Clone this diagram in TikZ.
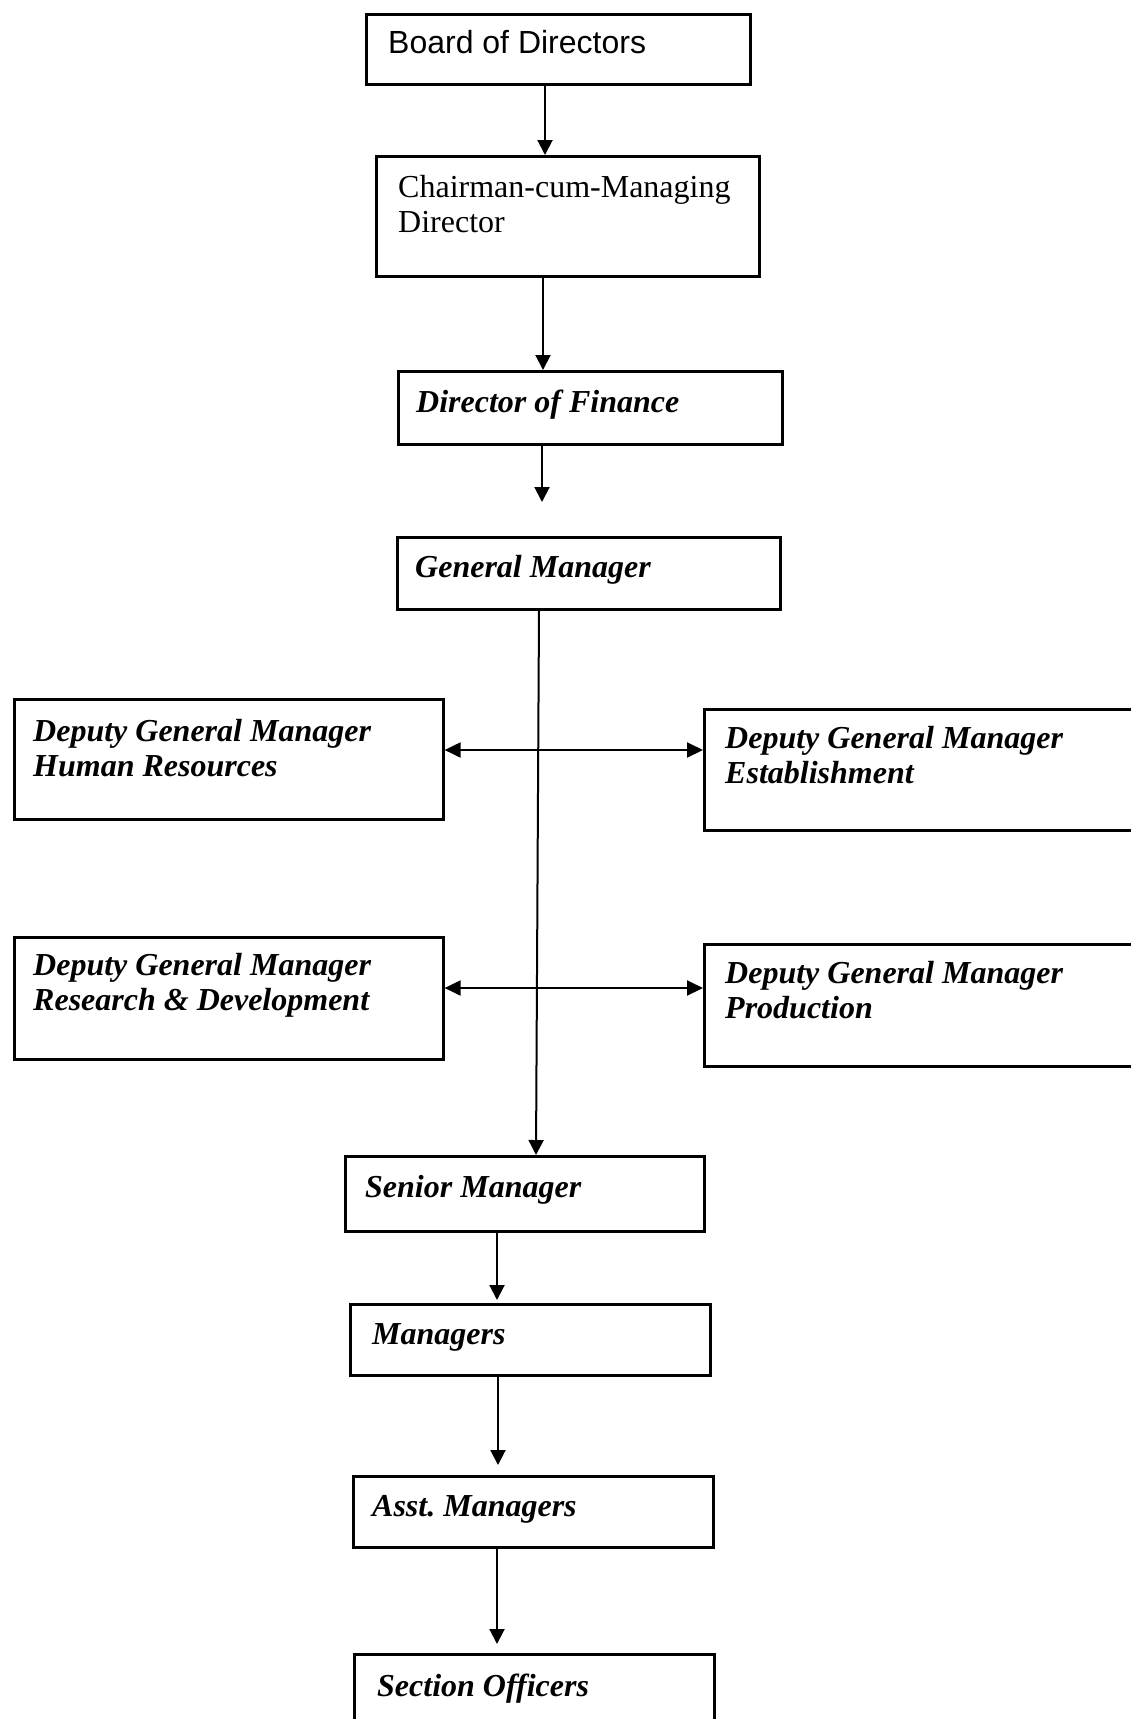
\documentclass[tikz,border=0pt]{standalone}
\usepackage{fontspec}
\setmainfont{Liberation Serif}
\newfontfamily\arialfont{Liberation Sans}
\usetikzlibrary{arrows.meta}
\begin{document}
\begin{tikzpicture}[x=1pt,y=-1pt,
  box/.style={draw, line width=2.6pt, inner sep=0pt, anchor=north west},
  lbl/.style={anchor=base west, inner sep=0pt, font=\fontsize{32}{35}\selectfont\bfseries\itshape},
  rlbl/.style={anchor=base west, inner sep=0pt, font=\fontsize{32}{35}\selectfont},
  slbl/.style={anchor=base west, inner sep=0pt, font=\fontsize{32}{35}\selectfont\arialfont},
  arr/.style={line width=2pt, -{Triangle[width=15pt,length=15pt]}},
  darr/.style={line width=2pt, {Triangle[width=15pt,length=16pt]}-{Triangle[width=15pt,length=16pt]}}]
\useasboundingbox (0,0) rectangle (1131,1719);
\clip (0,0) rectangle (1131,1719);
\fill[white] (0,0) rectangle (1131,1719);

% boxes
\node[box, minimum width=384pt, minimum height=70pt] (bod) at (365,13) {};
\node[box, minimum width=383pt, minimum height=120pt] (cmd) at (375,155) {};
\node[box, minimum width=384pt, minimum height=73pt] (dof) at (397,370) {};
\node[box, minimum width=383pt, minimum height=72pt] (gm) at (396,536) {};
\node[box, minimum width=429pt, minimum height=120pt] (hr) at (13,698) {};
\node[box, minimum width=460pt, minimum height=121pt] (est) at (703,708) {};
\node[box, minimum width=429pt, minimum height=122pt] (rd) at (13,936) {};
\node[box, minimum width=460pt, minimum height=122pt] (prod) at (703,943) {};
\node[box, minimum width=359pt, minimum height=75pt] (sm) at (344,1155) {};
\node[box, minimum width=360pt, minimum height=71pt] (mgr) at (349,1303) {};
\node[box, minimum width=360pt, minimum height=71pt] (asst) at (352,1475) {};
\node[box, minimum width=360pt, minimum height=120pt] (so) at (353,1653) {};

% texts
\node[slbl] (bodt) at (388,53) {Board of Directors};
\node[rlbl] (cmdt1) at (398,197) {Chairman-cum-Managing};
\node[rlbl] (cmdt2) at (398,232) {Director};
\node[lbl] (doft) at (416,412) {Director of Finance};
\node[lbl] (gmt) at (415,577) {General Manager};
\node[lbl] (hrt1) at (33,741) {Deputy General Manager};
\node[lbl] (hrt2) at (33,776) {Human Resources};
\node[lbl] (estt1) at (725,748) {Deputy General Manager};
\node[lbl] (estt2) at (725,783) {Establishment};
\node[lbl] (rdt1) at (33,975) {Deputy General Manager};
\node[lbl] (rdt2) at (33,1010) {Research \& Development};
\node[lbl] (prodt1) at (725,983) {Deputy General Manager};
\node[lbl] (prodt2) at (725,1018) {Production};
\node[lbl] (smt) at (365,1197) {Senior Manager};
\node[lbl] (mgrt) at (372,1344) {Managers};
\node[lbl] (asstt) at (372,1516) {Asst.\ Managers};
\node[lbl] (sot) at (377,1696) {Section Officers};

% connector guides
\coordinate (x1) at (545,0);
\coordinate (x2) at (543,0);
\coordinate (dofend) at (542,502);
\coordinate (sp1) at (539,0);
\coordinate (sp2) at (536,0);
\coordinate (h1) at (0,750);
\coordinate (h2) at (0,988);
\coordinate (x5) at (497,0);
\coordinate (x6) at (498,0);
\coordinate (x7) at (497,0);

% connectors
\draw[arr] (bod.south -| x1) -- (cmd.north -| x1);
\draw[arr] (cmd.south -| x2) -- (dof.north -| x2);
\draw[arr] (dof.south -| dofend) -- (dofend);
\draw[arr] (gm.south -| sp1) -- (sm.north -| sp2);
\draw[darr] (hr.east |- h1) -- (est.west |- h1);
\draw[darr] (rd.east |- h2) -- (prod.west |- h2);
\draw[arr, shorten >=3pt] (sm.south -| x5) -- (mgr.north -| x5);
\draw[arr, shorten >=10pt] (mgr.south -| x6) -- (asst.north -| x6);
\draw[arr, shorten >=9pt] (asst.south -| x7) -- (so.north -| x7);
\end{tikzpicture}
\end{document}
